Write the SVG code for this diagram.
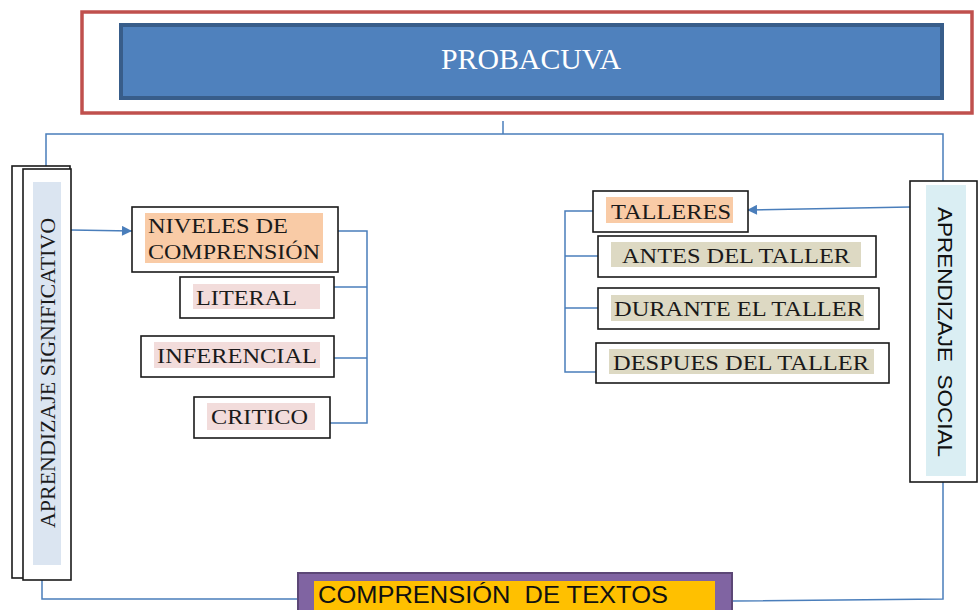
<svg xmlns="http://www.w3.org/2000/svg" width="978" height="610" viewBox="0 0 978 610">
<style>
.box{fill:#fff;stroke:#1a1a1a;stroke-width:1.6}
.ser{font-family:"Liberation Serif","Times New Roman",serif;font-size:22px;fill:#1a1a1a}
.san{font-family:"Liberation Sans",Arial,sans-serif;fill:#111;white-space:pre}
.con{fill:none;stroke:#4a7ebb;stroke-width:1.5}
.peach{fill:#f9cba6}
.pink{fill:#f2dcdb}
.khaki{fill:#ddd9c3}
</style>
<defs>
<marker id="ah" viewBox="0 0 10 10" refX="10" refY="5" markerWidth="11" markerHeight="10" markerUnits="userSpaceOnUse" orient="auto">
<path d="M0,0 L10,5 L0,10 z" fill="#4a7ebb"/>
</marker>
</defs>
<rect width="978" height="610" fill="#fff"/>

<g id="connectors">
<path class="con" d="M503,121 V134"/>
<path class="con" d="M46,167 V134 H943 V181"/>
<path class="con" d="M71,230 L132,231" marker-end="url(#ah)"/>
<path class="con" d="M910,207 L747,210" marker-end="url(#ah)"/>
<path class="con" d="M338,231 H367 V423 H330"/>
<path class="con" d="M334,287 H367"/>
<path class="con" d="M334,358 H367"/>
<path class="con" d="M593,211 H565 V372 H596"/>
<path class="con" d="M598,256 H565"/>
<path class="con" d="M598,308 H565"/>
<path class="con" d="M42,580 V599 H297"/>
<path class="con" d="M943,482 V599 L733,601"/>
</g>

<g id="probacuva">
<rect x="82" y="12" width="890" height="101" fill="#fff" stroke="#c0504d" stroke-width="3.5"/>
<rect x="121" y="25" width="821" height="73" fill="#4f81bd" stroke="#385d8a" stroke-width="4"/>
<text x="531" y="69" text-anchor="middle" font-family="Liberation Serif,Times New Roman,serif" font-size="29" fill="#fff" textLength="180" lengthAdjust="spacingAndGlyphs">PROBACUVA</text>
</g>

<g id="aprendizaje-significativo">
<rect x="12" y="166" width="58" height="412" class="box"/>
<rect x="23" y="169" width="48" height="411" class="box"/>
<rect x="33" y="182" width="28" height="383" fill="#dbe5f1"/>
<text class="ser" font-size="25" transform="translate(55,528) rotate(-90)" textLength="310" lengthAdjust="spacingAndGlyphs">APRENDIZAJE SIGNIFICATIVO</text>
</g>

<g id="niveles">
<rect x="132" y="207" width="206" height="65" class="box"/>
<rect x="145" y="213" width="178" height="50" class="peach"/>
<text class="ser" x="148" y="233" textLength="140" lengthAdjust="spacingAndGlyphs">NIVELES DE</text>
<text class="ser" x="148" y="259" textLength="172" lengthAdjust="spacingAndGlyphs">COMPRENSIÓN</text>
</g>

<g id="literal">
<rect x="180" y="277" width="154" height="41" class="box"/>
<rect x="193" y="284" width="127" height="25" class="pink"/>
<text class="ser" x="196" y="305" textLength="101" lengthAdjust="spacingAndGlyphs">LITERAL</text>
</g>

<g id="inferencial">
<rect x="141" y="336" width="193" height="41" class="box"/>
<rect x="154" y="342" width="166" height="26" class="pink"/>
<text class="ser" x="157" y="363" textLength="160" lengthAdjust="spacingAndGlyphs">INFERENCIAL</text>
</g>

<g id="critico">
<rect x="194" y="397" width="136" height="41" class="box"/>
<rect x="207" y="403" width="108" height="27" class="pink"/>
<text class="ser" x="211" y="424" textLength="97" lengthAdjust="spacingAndGlyphs">CRITICO</text>
</g>

<g id="talleres">
<rect x="593" y="191" width="155" height="41" class="box"/>
<rect x="606" y="197" width="127" height="26" class="peach"/>
<text class="ser" x="611" y="219" textLength="120" lengthAdjust="spacingAndGlyphs">TALLERES</text>
</g>

<g id="antes">
<rect x="598" y="236" width="278" height="41" class="box"/>
<rect x="611" y="242" width="250" height="25" class="khaki"/>
<text class="ser" x="622" y="263" textLength="228" lengthAdjust="spacingAndGlyphs">ANTES DEL TALLER</text>
</g>

<g id="durante">
<rect x="598" y="288" width="281" height="41" class="box"/>
<rect x="611" y="295" width="253" height="26" class="khaki"/>
<text class="ser" x="614" y="316" textLength="249" lengthAdjust="spacingAndGlyphs">DURANTE EL TALLER</text>
</g>

<g id="despues">
<rect x="596" y="343" width="293" height="40" class="box"/>
<rect x="609" y="349" width="265" height="25" class="khaki"/>
<text class="ser" x="613" y="370" textLength="256" lengthAdjust="spacingAndGlyphs">DESPUES DEL TALLER</text>
</g>

<g id="aprendizaje-social">
<rect x="910" y="181" width="67" height="301" class="box"/>
<rect x="926" y="185" width="40" height="291" fill="#daeef3"/>
<text class="san" font-size="21" transform="translate(938,207) rotate(90)" textLength="250" lengthAdjust="spacingAndGlyphs">APRENDIZAJE  SOCIAL</text>
</g>

<g id="comprension-textos">
<rect x="298" y="573" width="434" height="45" fill="#8064a2" stroke="#5c4776" stroke-width="2"/>
<rect x="314" y="581" width="401" height="35" fill="#ffc000"/>
<text class="san" x="318" y="603" font-size="23" textLength="350" lengthAdjust="spacingAndGlyphs">COMPRENSIÓN  DE TEXTOS</text>
</g>
</svg>
